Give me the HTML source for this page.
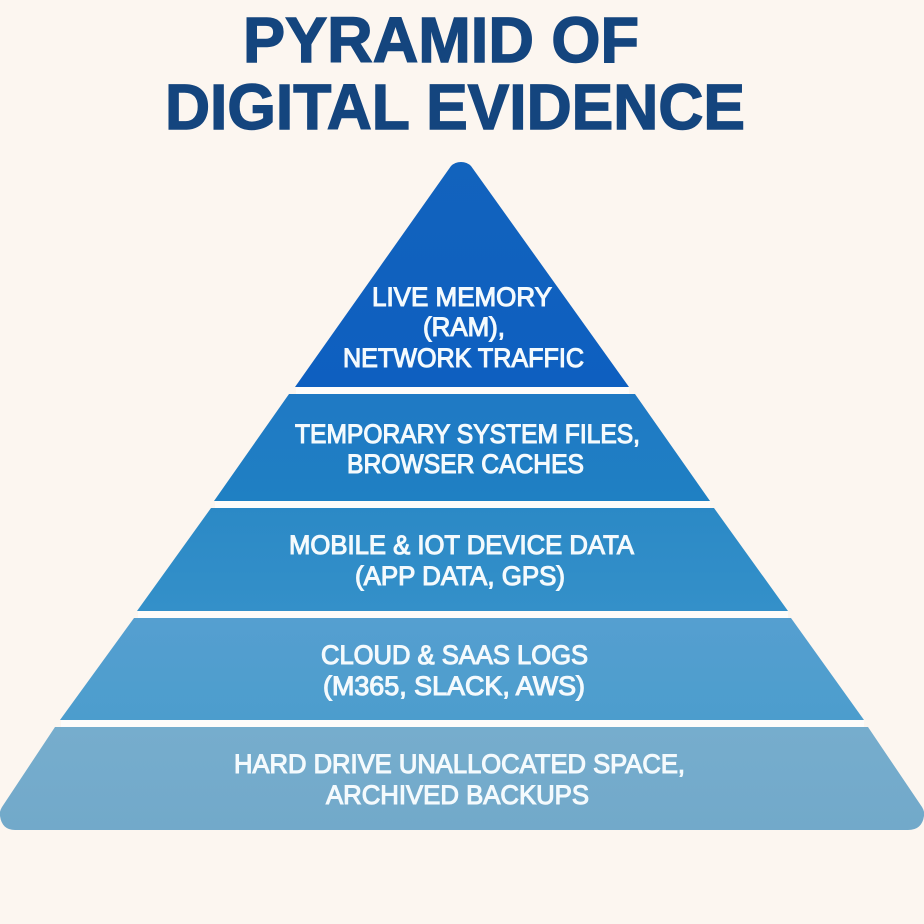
<!DOCTYPE html>
<html><head><meta charset="utf-8"><style>
html,body{margin:0;padding:0;background:#fcf6f0}
svg{display:block}
text{font-family:"Liberation Sans",sans-serif}
.t{fill:#14457e;stroke:#14457e;stroke-width:1.4px;font-size:64px;font-weight:bold}
.w{fill:#f4fafd;stroke:#f4fafd;stroke-width:1.1px;font-size:26.5px;font-weight:normal}
</style></head><body>
<svg width="924" height="924" viewBox="0 0 924 924" xmlns="http://www.w3.org/2000/svg">
<defs>
<linearGradient id="g1" x1="0" y1="0" x2="0" y2="1"><stop offset="0" stop-color="#1263bd"/><stop offset="1" stop-color="#0e5fc0"/></linearGradient>
<linearGradient id="g2" x1="0" y1="0" x2="0" y2="1"><stop offset="0" stop-color="#1f79c4"/><stop offset="1" stop-color="#1f80c3"/></linearGradient>
<linearGradient id="g3" x1="0" y1="0" x2="0" y2="1"><stop offset="0" stop-color="#2b89c6"/><stop offset="1" stop-color="#3490c9"/></linearGradient>
<linearGradient id="g4" x1="0" y1="0" x2="0" y2="1"><stop offset="0" stop-color="#559fd0"/><stop offset="1" stop-color="#4c9dcd"/></linearGradient>
<linearGradient id="g5" x1="0" y1="0" x2="0" y2="1"><stop offset="0" stop-color="#76adcd"/><stop offset="1" stop-color="#72a9ca"/></linearGradient>
</defs>
<rect width="924" height="924" fill="#fcf6f0"/>
<rect x="296" y="387" width="333" height="7" fill="#fefcfa"/>
<rect x="215" y="501" width="495" height="7" fill="#fefcfa"/>
<rect x="138" y="611" width="650" height="7" fill="#fefcfa"/>
<rect x="61" y="720" width="803" height="7" fill="#fefcfa"/>
<path d="M451 166Q455 162 461 162Q467 162 471 166L629 387H295Z" fill="url(#g1)"/>
<path d="M289 394H635L710 501H214Z" fill="url(#g2)"/>
<path d="M211 508H714L788 611H137Z" fill="url(#g3)"/>
<path d="M134 618H791L864 720H60Z" fill="url(#g4)"/>
<path d="M55 727H868L922 807Q925 812 924 816Q922 830 908 830H15Q2 830 0 816Q-1 812 2 807Z" fill="url(#g5)"/>
<text class="t" x="243" y="62" textLength="396" lengthAdjust="spacingAndGlyphs">PYRAMID OF</text>
<text class="t" x="165" y="129" textLength="580" lengthAdjust="spacingAndGlyphs">DIGITAL EVIDENCE</text>
<text class="w" x="372" y="306" textLength="180" lengthAdjust="spacingAndGlyphs">LIVE MEMORY</text>
<text class="w" x="423" y="336" textLength="82" lengthAdjust="spacingAndGlyphs">(RAM),</text>
<text class="w" x="343" y="367" textLength="241" lengthAdjust="spacingAndGlyphs">NETWORK TRAFFIC</text>
<text class="w" x="295" y="443" textLength="345" lengthAdjust="spacingAndGlyphs">TEMPORARY SYSTEM FILES,</text>
<text class="w" x="347" y="473" textLength="237" lengthAdjust="spacingAndGlyphs">BROWSER CACHES</text>
<text class="w" x="289" y="554" textLength="345" lengthAdjust="spacingAndGlyphs">MOBILE &amp; IOT DEVICE DATA</text>
<text class="w" x="355" y="585" textLength="210" lengthAdjust="spacingAndGlyphs">(APP DATA, GPS)</text>
<text class="w" x="321" y="664" textLength="267" lengthAdjust="spacingAndGlyphs">CLOUD &amp; SAAS LOGS</text>
<text class="w" x="323" y="695" textLength="262" lengthAdjust="spacingAndGlyphs">(M365, SLACK, AWS)</text>
<text class="w" x="234" y="773" textLength="451" lengthAdjust="spacingAndGlyphs">HARD DRIVE UNALLOCATED SPACE,</text>
<text class="w" x="326" y="804" textLength="263" lengthAdjust="spacingAndGlyphs">ARCHIVED BACKUPS</text>
</svg>
</body></html>
